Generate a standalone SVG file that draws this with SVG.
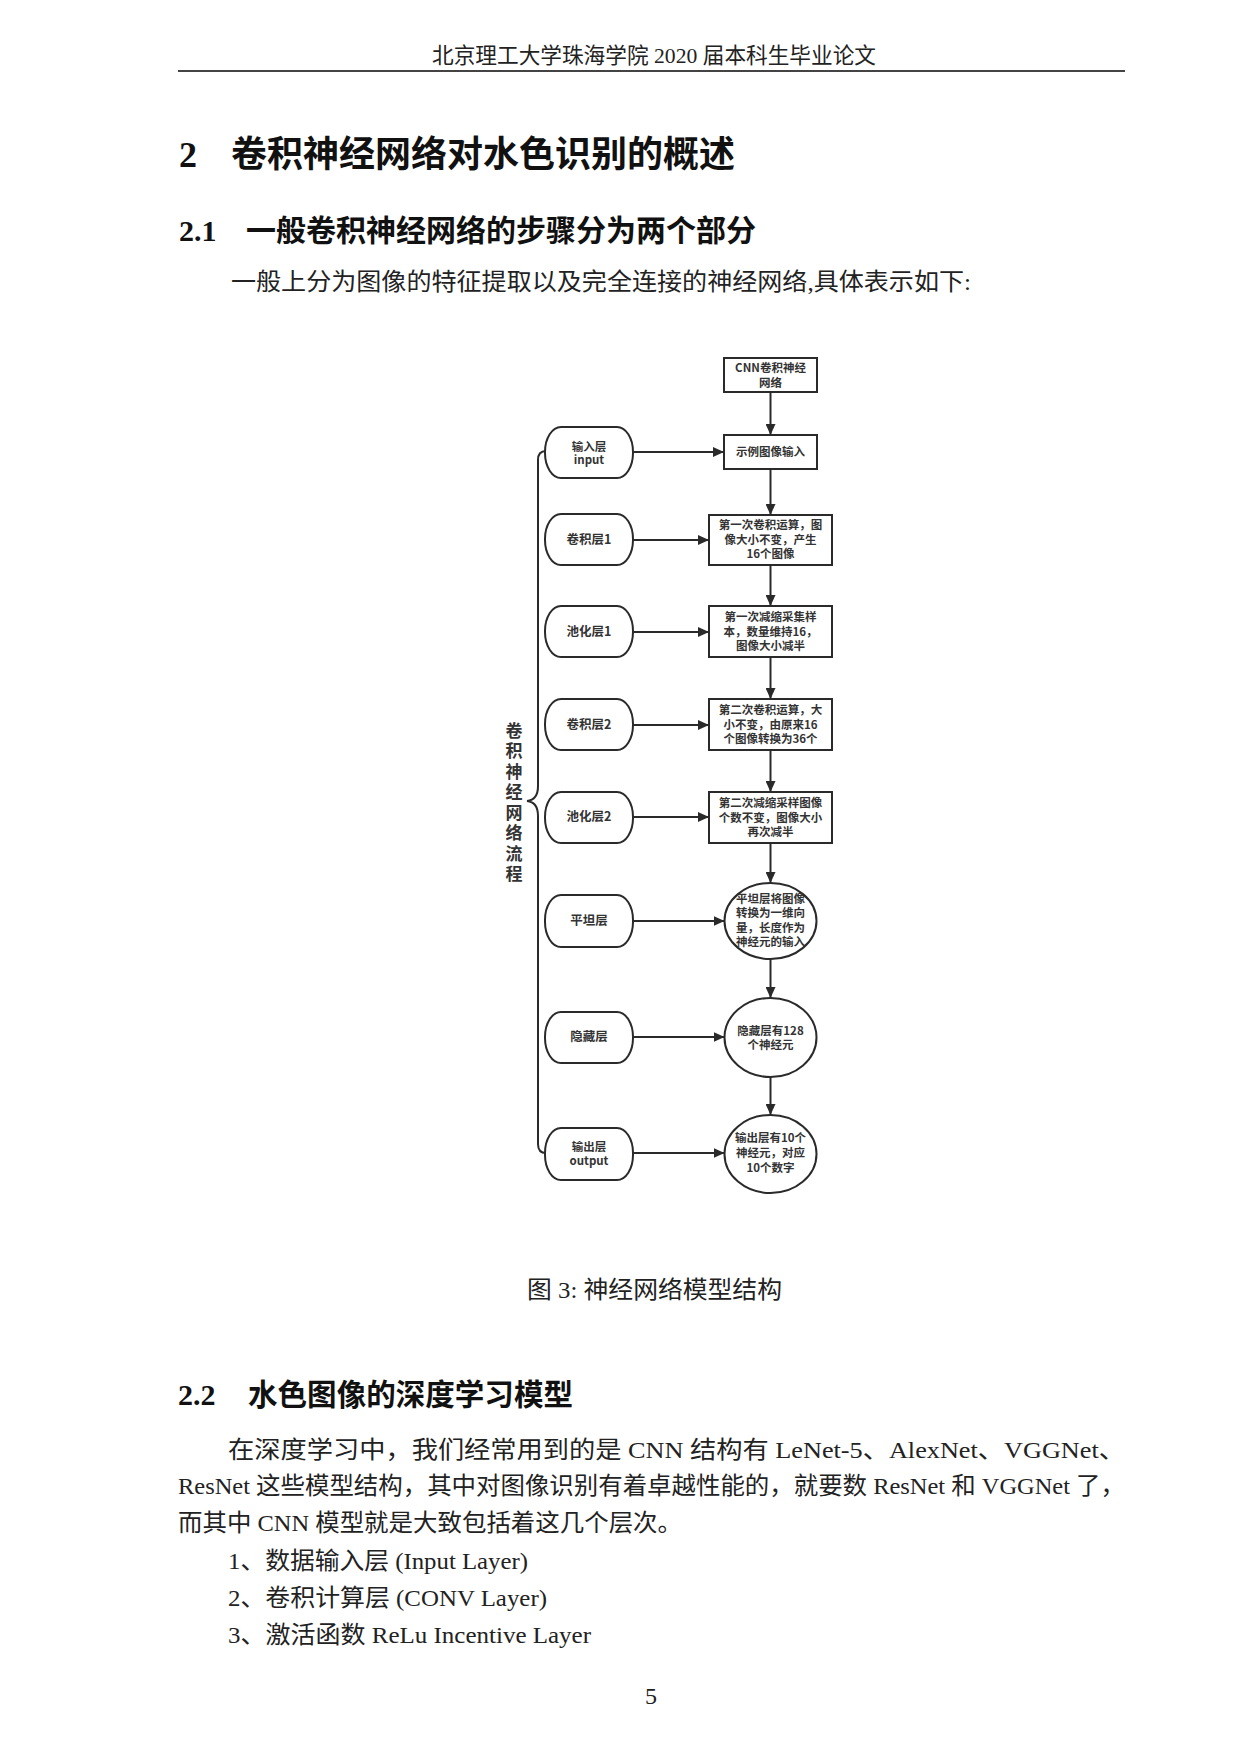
<svg xmlns="http://www.w3.org/2000/svg" width="1240" height="1754" viewBox="0 0 1240 1754">
<defs>
<style>
.page{font-family:"Liberation Serif","Noto Sans CJK SC",serif;fill:#222}
.hd{font-family:"Liberation Serif","Noto Sans CJK SC",serif;font-weight:bold;fill:#111}
.d{font-family:"Noto Sans CJK SC","DejaVu Sans",sans-serif;font-weight:bold;font-size:11.5px;fill:#333;text-anchor:middle}
.t{font-family:"Noto Sans CJK SC","DejaVu Sans",sans-serif;font-weight:bold;font-size:12.5px;fill:#333;text-anchor:middle}
.vt{font-family:"Noto Sans CJK SC","DejaVu Sans",sans-serif;font-weight:bold;font-size:17px;fill:#333;writing-mode:vertical-rl;letter-spacing:3.5px}
.shape{fill:#fff;stroke:#2a2a2a;stroke-width:2}
.conn{fill:none;stroke:#2a2a2a;stroke-width:2}
</style>
<marker id="ah" markerUnits="userSpaceOnUse" markerWidth="11" markerHeight="10" refX="11" refY="5" orient="auto">
<path d="M0,0 L11,5 L0,10 z" fill="#2a2a2a"/>
</marker>
</defs>
<rect width="1240" height="1754" fill="#fff"/>

<!-- page header -->
<text class="page" x="432" y="63" font-size="22" textLength="444" lengthAdjust="spacingAndGlyphs">北京理工大学珠海学院 2020 届本科生毕业论文</text>
<line x1="178" y1="71" x2="1125" y2="71" stroke="#444" stroke-width="2"/>

<text class="hd" x="179" y="167" font-size="36">2</text>
<text class="hd" x="231" y="167" font-size="36" textLength="504" lengthAdjust="spacingAndGlyphs">卷积神经网络对水色识别的概述</text>
<text class="hd" x="179" y="241" font-size="30">2.1</text>
<text class="hd" x="246" y="241" font-size="30" textLength="510" lengthAdjust="spacingAndGlyphs">一般卷积神经网络的步骤分为两个部分</text>
<text class="page" x="231" y="290" font-size="24" textLength="740" lengthAdjust="spacingAndGlyphs">一般上分为图像的特征提取以及完全连接的神经网络,具体表示如下:</text>

<!-- diagram -->
<g id="bracket">
<path class="conn" d="M546 451 Q538 451 538 460 L538 786 Q538 800 527 801 Q538 802 538 816 L538 1144 Q538 1153 546 1153"/>
<text class="vt" x="514" y="722">卷积神经网络流程</text>
</g>

<g id="n_cnn"><rect class="shape" x="724" y="358" width="93" height="34"/><text class="d" x="770.5" y="372">CNN卷积神经</text><text class="d" x="770.5" y="387">网络</text></g>
<g id="n_input_img"><rect class="shape" x="724" y="435" width="93" height="34"/><text class="d" x="770.5" y="456">示例图像输入</text></g>
<g id="n_conv1"><rect class="shape" x="709" y="515" width="123" height="50"/><text class="d" x="770.5" y="529">第一次卷积运算，图</text><text class="d" x="770.5" y="544">像大小不变，产生</text><text class="d" x="770.5" y="558">16个图像</text></g>
<g id="n_pool1"><rect class="shape" x="709" y="606" width="123" height="51"/><text class="d" x="770.5" y="621">第一次减缩采集样</text><text class="d" x="770.5" y="636">本，数量维持16，</text><text class="d" x="770.5" y="650">图像大小减半</text></g>
<g id="n_conv2"><rect class="shape" x="709" y="699" width="123" height="51"/><text class="d" x="770.5" y="714">第二次卷积运算，大</text><text class="d" x="770.5" y="729">小不变，由原来16</text><text class="d" x="770.5" y="743">个图像转换为36个</text></g>
<g id="n_pool2"><rect class="shape" x="709" y="792" width="123" height="51"/><text class="d" x="770.5" y="807">第二次减缩采样图像</text><text class="d" x="770.5" y="822">个数不变，图像大小</text><text class="d" x="770.5" y="836">再次减半</text></g>
<g id="n_flat"><ellipse class="shape" cx="770.5" cy="921" rx="46" ry="38"/><text class="d" x="770.5" y="903">平坦层将图像</text><text class="d" x="770.5" y="917">转换为一维向</text><text class="d" x="770.5" y="932">量，长度作为</text><text class="d" x="770.5" y="946">神经元的输入</text></g>
<g id="n_hidden"><ellipse class="shape" cx="770.5" cy="1037.5" rx="46" ry="39.5"/><text class="d" x="770.5" y="1035">隐藏层有128</text><text class="d" x="770.5" y="1049">个神经元</text></g>
<g id="n_out"><ellipse class="shape" cx="770.5" cy="1154" rx="46" ry="39"/><text class="d" x="770.5" y="1142">输出层有10个</text><text class="d" x="770.5" y="1157">神经元，对应</text><text class="d" x="770.5" y="1172">10个数字</text></g>

<g id="t_input"><rect class="shape" x="545" y="427" width="88" height="51" rx="16" ry="25"/><text class="d" x="589" y="451">输入层</text><text class="d" x="589" y="464">input</text></g>
<g id="t_conv1"><rect class="shape" x="545" y="514" width="88" height="51" rx="16" ry="25"/><text class="t" x="589" y="544">卷积层1</text></g>
<g id="t_pool1"><rect class="shape" x="545" y="606" width="88" height="51" rx="16" ry="25"/><text class="t" x="589" y="636">池化层1</text></g>
<g id="t_conv2"><rect class="shape" x="545" y="699" width="88" height="51" rx="16" ry="25"/><text class="t" x="589" y="729">卷积层2</text></g>
<g id="t_pool2"><rect class="shape" x="545" y="792" width="88" height="51" rx="16" ry="25"/><text class="t" x="589" y="821">池化层2</text></g>
<g id="t_flat"><rect class="shape" x="545" y="895" width="88" height="52" rx="16" ry="25"/><text class="t" x="589" y="925">平坦层</text></g>
<g id="t_hidden"><rect class="shape" x="545" y="1012" width="88" height="51" rx="16" ry="25"/><text class="t" x="589" y="1041">隐藏层</text></g>
<g id="t_out"><rect class="shape" x="545" y="1128" width="88" height="52" rx="16" ry="25"/><text class="d" x="589" y="1151">输出层</text><text class="d" x="589" y="1165">output</text></g>

<g id="connectors">
<line class="conn" x1="770.5" y1="392" x2="770.5" y2="435" marker-end="url(#ah)"/>
<line class="conn" x1="770.5" y1="469" x2="770.5" y2="515" marker-end="url(#ah)"/>
<line class="conn" x1="770.5" y1="565" x2="770.5" y2="606" marker-end="url(#ah)"/>
<line class="conn" x1="770.5" y1="657" x2="770.5" y2="699" marker-end="url(#ah)"/>
<line class="conn" x1="770.5" y1="750" x2="770.5" y2="792" marker-end="url(#ah)"/>
<line class="conn" x1="770.5" y1="843" x2="770.5" y2="883" marker-end="url(#ah)"/>
<line class="conn" x1="770.5" y1="959" x2="770.5" y2="998" marker-end="url(#ah)"/>
<line class="conn" x1="770.5" y1="1077" x2="770.5" y2="1115" marker-end="url(#ah)"/>
<line class="conn" x1="633" y1="452" x2="724" y2="452" marker-end="url(#ah)"/>
<line class="conn" x1="633" y1="540" x2="709" y2="540" marker-end="url(#ah)"/>
<line class="conn" x1="633" y1="632" x2="709" y2="632" marker-end="url(#ah)"/>
<line class="conn" x1="633" y1="725" x2="709" y2="725" marker-end="url(#ah)"/>
<line class="conn" x1="633" y1="817" x2="709" y2="817" marker-end="url(#ah)"/>
<line class="conn" x1="633" y1="921" x2="724.5" y2="921" marker-end="url(#ah)"/>
<line class="conn" x1="633" y1="1037" x2="724.5" y2="1037" marker-end="url(#ah)"/>
<line class="conn" x1="633" y1="1153" x2="724.5" y2="1153" marker-end="url(#ah)"/>
</g>

<text class="page" x="527" y="1298" font-size="24" textLength="255" lengthAdjust="spacingAndGlyphs">图 3: 神经网络模型结构</text>

<text class="hd" x="178" y="1405" font-size="30">2.2</text>
<text class="hd" x="248" y="1405" font-size="30" textLength="325" lengthAdjust="spacingAndGlyphs">水色图像的深度学习模型</text>

<text class="page" x="228" y="1458" font-size="24" textLength="897" lengthAdjust="spacingAndGlyphs">在深度学习中，我们经常用到的是 CNN 结构有 LeNet-5、AlexNet、VGGNet、</text>
<text class="page" x="178" y="1494" font-size="24" textLength="947" lengthAdjust="spacingAndGlyphs">ResNet 这些模型结构，其中对图像识别有着卓越性能的，就要数 ResNet 和 VGGNet 了，</text>
<text class="page" x="178" y="1531" font-size="24" textLength="504" lengthAdjust="spacingAndGlyphs">而其中 CNN 模型就是大致包括着这几个层次。</text>
<text class="page" x="228" y="1569" font-size="24" textLength="300" lengthAdjust="spacingAndGlyphs">1、数据输入层 (Input Layer)</text>
<text class="page" x="228" y="1606" font-size="24" textLength="319" lengthAdjust="spacingAndGlyphs">2、卷积计算层 (CONV Layer)</text>
<text class="page" x="228" y="1643" font-size="24" textLength="363" lengthAdjust="spacingAndGlyphs">3、激活函数 ReLu Incentive Layer</text>
<text class="page" x="651" y="1704" font-size="24" text-anchor="middle">5</text>
</svg>
